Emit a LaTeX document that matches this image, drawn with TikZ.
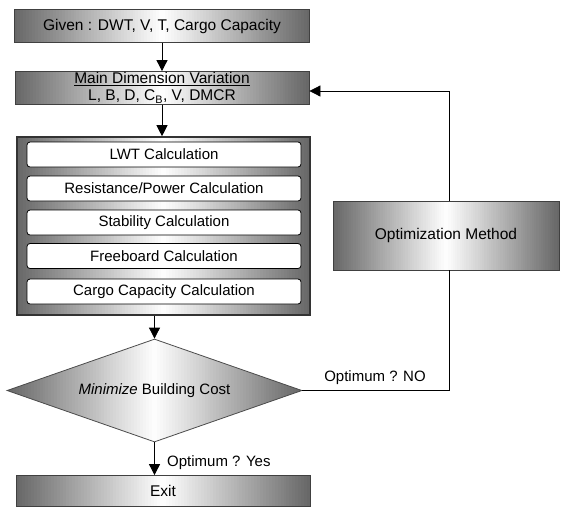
\documentclass[tikz,border=0pt]{standalone}
\usepackage{fontspec}
\setmainfont{Liberation Sans}
\usetikzlibrary{shapes.geometric,arrows.meta,calc}

\tikzset{
  % horizontal grey-white-grey gradient painted as thin strips
  hgrad/.style={path picture={
    \foreach \i in {0,...,99}{
      \pgfmathsetmacro\ta{\i/100}
      \pgfmathsetmacro\tb{(\i+1.4)/100}
      \pgfmathsetmacro\shd{#1*abs(2*(\i+0.5)/100-1)}
      \fill[black!\shd]
        ($(path picture bounding box.south west)!\ta!(path picture bounding box.south east)$)
        rectangle
        ($(path picture bounding box.north west)!\tb!(path picture bounding box.north east)$);
    }}},
  shadebox/.style={draw=black!75, line width=0.8pt, inner sep=0pt, hgrad=60,
    font=\fontsize{15.5}{18}\selectfont, align=center},
  calcbox/.style={draw=black, line width=0.8pt, fill=white, rounded corners=3pt,
    minimum width=274pt, minimum height=25pt, inner sep=0pt,
    font=\fontsize{15}{17}\selectfont},
  decision/.style={diamond, draw=black!70, line width=0.8pt, inner sep=0pt, hgrad=60,
    minimum width=295pt, minimum height=103pt, aspect=2.86,
    font=\fontsize{15}{17}\selectfont},
  flow/.style={draw=black, line width=0.8pt},
  arr/.style={flow, -{Triangle[width=11pt,length=11pt]}},
  lbl/.style={font=\fontsize{15}{17}\selectfont, inner sep=0pt}
}

\begin{document}
\begin{tikzpicture}[x=1pt,y=-1pt]
\useasboundingbox (0,0) rectangle (561,507);

% input and design variables
\node[shadebox, minimum width=295pt, minimum height=33pt] (given) at (162,26)
  {Given : DWT, V, T, Cargo Capacity};
\node[shadebox, minimum width=294pt, minimum height=33pt] (main) at (162,88)
  {\underline{Main Dimension Variation}\\[-1pt] L, B, D, C\textsubscript{B}, V, DMCR};

% block of calculations
\node[shadebox, draw=black!80, line width=1.6pt, minimum width=293pt, minimum height=178pt] (cont) at (163.5,226) {};
\node[calcbox] (lwt)  at (164,154.5) {LWT Calculation};
\node[calcbox] (res)  at (164,188.5) {Resistance/Power Calculation};
\node[calcbox] (stab) at (164,222.5) {Stability Calculation};
\node[calcbox] (free) at (164,256)   {Freeboard Calculation};
\node[calcbox] (cargo) at (164,291.5) {Cargo Capacity Calculation};

% objective and exit
\node[decision] (dia) at (154.5,390.5) {\textit{Minimize} Building Cost};
\node[shadebox, minimum width=294pt, minimum height=31pt] (exit) at (163,491) {Exit};

% optimizer
\node[shadebox, minimum width=226pt, minimum height=69pt] (opt) at (446,235.5)
  {Optimization Method};

% connectors
\draw[arr] (given.south) -- (given.south |- main.north);
\draw[arr] (main.south) -- (main.south |- cont.north);
\draw[arr] (cont.south -| dia.north) -- (dia.north);
\draw[arr] (dia.south) -- (dia.south |- exit.north);
\coordinate (turn) at (449,390.5);
\draw[flow] (dia.east) -- (turn) -- (turn |- opt.south);
\draw[arr] (turn |- opt.north) |- ([yshift=-3pt]main.east);

% branch labels
\node[lbl] (no) at (375,378) {Optimum ? NO};
\node[lbl, anchor=west] (yes) at (167,463) {Optimum ? Yes};
\end{tikzpicture}
\end{document}
